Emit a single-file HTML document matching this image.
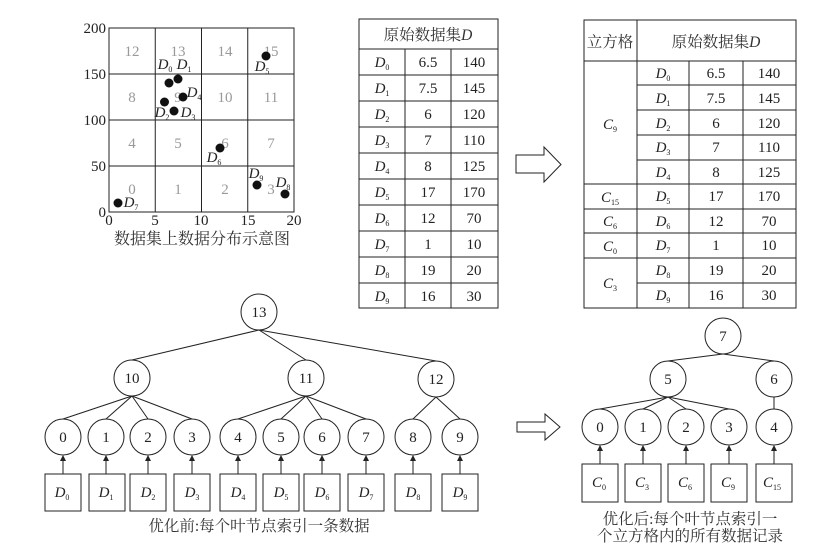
<!DOCTYPE html>
<html><head><meta charset="utf-8"><style>
html,body{margin:0;padding:0;background:#fff;}
svg{display:block;font-family:"Liberation Serif","Noto Serif CJK SC",serif;}
.g{fill:#999;font-size:15px;text-anchor:middle;}
.t{font-size:15px;text-anchor:middle;fill:#222;}
.i{font-style:italic;}
.s{font-size:8px;font-style:normal;}
.c{font-family:"Liberation Serif","Noto Serif CJK SC",serif;font-size:15.5px;text-anchor:middle;fill:#333;}
line,rect,circle,path{stroke:#222;stroke-width:1;}
</style></head><body>
<svg width="818" height="560" viewBox="0 0 818 560" xmlns="http://www.w3.org/2000/svg">
<g fill="none">
<rect x="109" y="28" width="185" height="184"/>
<line x1="155.25" y1="28" x2="155.25" y2="212"/><line x1="201.5" y1="28" x2="201.5" y2="212"/><line x1="247.75" y1="28" x2="247.75" y2="212"/>
<line x1="109" y1="74" x2="294" y2="74"/><line x1="109" y1="120" x2="294" y2="120"/><line x1="109" y1="166" x2="294" y2="166"/>
</g>
<g class="g">
<text x="132" y="56">12</text><text x="178" y="56">13</text><text x="225" y="56">14</text><text x="271" y="56">15</text>
<text x="132" y="102">8</text><text x="178" y="102">9</text><text x="225" y="102">10</text><text x="271" y="102">11</text>
<text x="132" y="148">4</text><text x="178" y="148">5</text><text x="225" y="148">6</text><text x="271" y="148">7</text>
<text x="132" y="194">0</text><text x="178" y="194">1</text><text x="225" y="194">2</text><text x="271" y="194">3</text>
</g>
<g fill="#111">
<circle cx="169" cy="83" r="4.5" style="stroke:none"/><circle cx="178" cy="79" r="4.5" style="stroke:none"/><circle cx="164.5" cy="102" r="4.5" style="stroke:none"/><circle cx="174" cy="111" r="4.5" style="stroke:none"/><circle cx="183" cy="97" r="4.5" style="stroke:none"/><circle cx="266" cy="56" r="4.5" style="stroke:none"/><circle cx="220" cy="148" r="4.5" style="stroke:none"/><circle cx="118" cy="203" r="4.5" style="stroke:none"/><circle cx="285" cy="194" r="4.5" style="stroke:none"/><circle cx="257" cy="185" r="4.5" style="stroke:none"/>
</g>
<g class="t i">
<text x="165" y="69">D<tspan class="s" dy="3">0</tspan></text>
<text x="184" y="69">D<tspan class="s" dy="3">1</tspan></text>
<text x="194" y="97">D<tspan class="s" dy="3">4</tspan></text>
<text x="162" y="117">D<tspan class="s" dy="3">2</tspan></text>
<text x="188" y="117">D<tspan class="s" dy="3">3</tspan></text>
<text x="262" y="71">D<tspan class="s" dy="3">5</tspan></text>
<text x="214" y="162">D<tspan class="s" dy="3">6</tspan></text>
<text x="131" y="207">D<tspan class="s" dy="3">7</tspan></text>
<text x="256" y="178">D<tspan class="s" dy="3">9</tspan></text>
<text x="283" y="187">D<tspan class="s" dy="3">8</tspan></text>
</g>
<g class="t" style="text-anchor:end">
<text x="106" y="33">200</text><text x="106" y="79">150</text><text x="106" y="125">100</text><text x="106" y="171">50</text><text x="106" y="217">0</text>
</g>
<g class="t"><text x="109" y="225">0</text><text x="155" y="225">5</text><text x="201" y="225">10</text><text x="248" y="225">15</text><text x="294" y="225">20</text></g>
<text class="c" x="202" y="244" style="font-size:16px">数据集上数据分布示意图</text>

<g fill="none">
<rect x="359" y="19" width="139" height="289"/>
<line x1="359" y1="49" x2="498" y2="49"/>
<line x1="405" y1="49" x2="405" y2="308"/><line x1="451" y1="49" x2="451" y2="308"/>
<line x1="359" y1="75" x2="498" y2="75"/><line x1="359" y1="101" x2="498" y2="101"/><line x1="359" y1="127" x2="498" y2="127"/><line x1="359" y1="153" x2="498" y2="153"/><line x1="359" y1="179" x2="498" y2="179"/><line x1="359" y1="205" x2="498" y2="205"/><line x1="359" y1="231" x2="498" y2="231"/><line x1="359" y1="257" x2="498" y2="257"/><line x1="359" y1="283" x2="498" y2="283"/>
</g>
<text class="c" x="428" y="40">原始数据集<tspan font-style="italic" font-family="Liberation Serif">D</tspan></text>
<g class="t">
<text x="382" y="67" class="i">D<tspan class="s" dy="3">0</tspan></text><text x="428" y="67">6.5</text><text x="474" y="67">140</text>
<text x="382" y="93" class="i">D<tspan class="s" dy="3">1</tspan></text><text x="428" y="93">7.5</text><text x="474" y="93">145</text>
<text x="382" y="119" class="i">D<tspan class="s" dy="3">2</tspan></text><text x="428" y="119">6</text><text x="474" y="119">120</text>
<text x="382" y="145" class="i">D<tspan class="s" dy="3">3</tspan></text><text x="428" y="145">7</text><text x="474" y="145">110</text>
<text x="382" y="171" class="i">D<tspan class="s" dy="3">4</tspan></text><text x="428" y="171">8</text><text x="474" y="171">125</text>
<text x="382" y="197" class="i">D<tspan class="s" dy="3">5</tspan></text><text x="428" y="197">17</text><text x="474" y="197">170</text>
<text x="382" y="223" class="i">D<tspan class="s" dy="3">6</tspan></text><text x="428" y="223">12</text><text x="474" y="223">70</text>
<text x="382" y="249" class="i">D<tspan class="s" dy="3">7</tspan></text><text x="428" y="249">1</text><text x="474" y="249">10</text>
<text x="382" y="275" class="i">D<tspan class="s" dy="3">8</tspan></text><text x="428" y="275">19</text><text x="474" y="275">20</text>
<text x="382" y="301" class="i">D<tspan class="s" dy="3">9</tspan></text><text x="428" y="301">16</text><text x="474" y="301">30</text>
</g>

<path d="M516 155 H544 V147 L561 164.5 L544 182 V173 H516 Z" fill="#fff"/>

<g fill="none">
<rect x="584" y="20" width="212" height="288"/>
<line x1="584" y1="61" x2="796" y2="61"/>
<line x1="637" y1="20" x2="637" y2="308"/><line x1="689" y1="61" x2="689" y2="308"/><line x1="743" y1="61" x2="743" y2="308"/>
<line x1="637" y1="85" x2="796" y2="85"/><line x1="637" y1="110" x2="796" y2="110"/><line x1="637" y1="135" x2="796" y2="135"/><line x1="637" y1="160" x2="796" y2="160"/>
<line x1="584" y1="184" x2="796" y2="184"/><line x1="584" y1="209" x2="796" y2="209"/><line x1="584" y1="233" x2="796" y2="233"/><line x1="584" y1="258" x2="796" y2="258"/><line x1="637" y1="283" x2="796" y2="283"/>
</g>
<text class="c" x="610" y="47">立方格</text>
<text class="c" x="716" y="47">原始数据集<tspan font-style="italic" font-family="Liberation Serif">D</tspan></text>
<g class="t">
<text x="610" y="129" class="i">C<tspan class="s" dy="3">9</tspan></text>
<text x="610" y="202" class="i">C<tspan class="s" dy="3">15</tspan></text>
<text x="610" y="226" class="i">C<tspan class="s" dy="3">6</tspan></text>
<text x="610" y="251" class="i">C<tspan class="s" dy="3">0</tspan></text>
<text x="610" y="288" class="i">C<tspan class="s" dy="3">3</tspan></text>
<text x="663" y="78" class="i">D<tspan class="s" dy="3">0</tspan></text><text x="716" y="78">6.5</text><text x="769" y="78">140</text>
<text x="663" y="103" class="i">D<tspan class="s" dy="3">1</tspan></text><text x="716" y="103">7.5</text><text x="769" y="103">145</text>
<text x="663" y="128" class="i">D<tspan class="s" dy="3">2</tspan></text><text x="716" y="128">6</text><text x="769" y="128">120</text>
<text x="663" y="152" class="i">D<tspan class="s" dy="3">3</tspan></text><text x="716" y="152">7</text><text x="769" y="152">110</text>
<text x="663" y="177" class="i">D<tspan class="s" dy="3">4</tspan></text><text x="716" y="177">8</text><text x="769" y="177">125</text>
<text x="663" y="201" class="i">D<tspan class="s" dy="3">5</tspan></text><text x="716" y="201">17</text><text x="769" y="201">170</text>
<text x="663" y="226" class="i">D<tspan class="s" dy="3">6</tspan></text><text x="716" y="226">12</text><text x="769" y="226">70</text>
<text x="663" y="250" class="i">D<tspan class="s" dy="3">7</tspan></text><text x="716" y="250">1</text><text x="769" y="250">10</text>
<text x="663" y="275" class="i">D<tspan class="s" dy="3">8</tspan></text><text x="716" y="275">19</text><text x="769" y="275">20</text>
<text x="663" y="300" class="i">D<tspan class="s" dy="3">9</tspan></text><text x="716" y="300">16</text><text x="769" y="300">30</text>
</g>

<defs><marker id="a" markerWidth="6" markerHeight="6" refX="5" refY="3" orient="auto"><path d="M0,0 L6,3 L0,6 Z" fill="#222" style="stroke:none"/></marker></defs>
<g fill="none">
<line x1="259" y1="330" x2="132" y2="360"/><line x1="259" y1="330" x2="306" y2="360"/><line x1="259" y1="330" x2="436" y2="361"/>
<line x1="132" y1="396" x2="63" y2="419"/><line x1="132" y1="396" x2="106" y2="419"/><line x1="132" y1="396" x2="148" y2="419"/><line x1="132" y1="396" x2="192" y2="419"/>
<line x1="306" y1="396" x2="238" y2="419"/><line x1="306" y1="396" x2="281" y2="419"/><line x1="306" y1="396" x2="322" y2="419"/><line x1="306" y1="396" x2="366" y2="419"/>
<line x1="436" y1="397" x2="413" y2="419"/><line x1="436" y1="397" x2="460" y2="419"/>
</g>
<g fill="#fff">
<circle cx="259" cy="312" r="18"/><circle cx="132" cy="378" r="18"/><circle cx="306" cy="378" r="18"/><circle cx="436" cy="379" r="18"/>
<circle cx="63" cy="437" r="18"/><circle cx="106" cy="437" r="18"/><circle cx="148" cy="437" r="18"/><circle cx="192" cy="437" r="18"/><circle cx="238" cy="437" r="18"/><circle cx="281" cy="437" r="18"/><circle cx="322" cy="437" r="18"/><circle cx="366" cy="437" r="18"/><circle cx="413" cy="437" r="18"/><circle cx="460" cy="437" r="18"/>
<rect x="45" y="474" width="36" height="37"/><rect x="89" y="474" width="36" height="37"/><rect x="130" y="474" width="36" height="37"/><rect x="174" y="474" width="36" height="37"/><rect x="220" y="474" width="36" height="37"/><rect x="263" y="474" width="36" height="37"/><rect x="304" y="474" width="36" height="37"/><rect x="348" y="474" width="36" height="37"/><rect x="395" y="474" width="36" height="37"/><rect x="442" y="474" width="36" height="37"/>
</g>
<g marker-end="url(#a)">
<line x1="63" y1="474" x2="63" y2="456"/><line x1="106" y1="474" x2="106" y2="456"/><line x1="148" y1="474" x2="148" y2="456"/><line x1="192" y1="474" x2="192" y2="456"/><line x1="238" y1="474" x2="238" y2="456"/><line x1="281" y1="474" x2="281" y2="456"/><line x1="322" y1="474" x2="322" y2="456"/><line x1="366" y1="474" x2="366" y2="456"/><line x1="413" y1="474" x2="413" y2="456"/><line x1="460" y1="474" x2="460" y2="456"/>
</g>
<g class="t">
<text x="259" y="317">13</text><text x="132" y="383">10</text><text x="306" y="383">11</text><text x="436" y="384">12</text>
<text x="63" y="442">0</text><text x="106" y="442">1</text><text x="148" y="442">2</text><text x="192" y="442">3</text><text x="238" y="442">4</text><text x="281" y="442">5</text><text x="322" y="442">6</text><text x="366" y="442">7</text><text x="413" y="442">8</text><text x="460" y="442">9</text>
<text x="62" y="497" class="i">D<tspan class="s" dy="3">0</tspan></text><text x="106" y="497" class="i">D<tspan class="s" dy="3">1</tspan></text><text x="148" y="497" class="i">D<tspan class="s" dy="3">2</tspan></text><text x="192" y="497" class="i">D<tspan class="s" dy="3">3</tspan></text><text x="238" y="497" class="i">D<tspan class="s" dy="3">4</tspan></text><text x="281" y="497" class="i">D<tspan class="s" dy="3">5</tspan></text><text x="322" y="497" class="i">D<tspan class="s" dy="3">6</tspan></text><text x="366" y="497" class="i">D<tspan class="s" dy="3">7</tspan></text><text x="413" y="497" class="i">D<tspan class="s" dy="3">8</tspan></text><text x="460" y="497" class="i">D<tspan class="s" dy="3">9</tspan></text>
</g>
<text class="c" x="259" y="531">优化前:每个叶节点索引一条数据</text>

<path d="M517 422 H545 V414 L560 427 L545 440 V432 H517 Z" fill="#fff"/>

<g fill="none">
<line x1="723" y1="354" x2="668" y2="361"/><line x1="723" y1="354" x2="774" y2="361"/>
<line x1="668" y1="397" x2="600" y2="409"/><line x1="668" y1="397" x2="643" y2="409"/><line x1="668" y1="397" x2="686" y2="409"/><line x1="668" y1="397" x2="729" y2="409"/>
<line x1="774" y1="397" x2="774" y2="409"/>
</g>
<g fill="#fff">
<circle cx="723" cy="336" r="18"/><circle cx="668" cy="379" r="18"/><circle cx="774" cy="379" r="18"/>
<circle cx="600" cy="427" r="18"/><circle cx="643" cy="427" r="18"/><circle cx="686" cy="427" r="18"/><circle cx="729" cy="427" r="18"/><circle cx="774" cy="427" r="18"/>
<rect x="582" y="464" width="36" height="38"/><rect x="625" y="464" width="36" height="38"/><rect x="668" y="464" width="36" height="38"/><rect x="711" y="464" width="36" height="38"/><rect x="756" y="464" width="36" height="38"/>
</g>
<g marker-end="url(#a)">
<line x1="600" y1="464" x2="600" y2="446"/><line x1="643" y1="464" x2="643" y2="446"/><line x1="686" y1="464" x2="686" y2="446"/><line x1="729" y1="464" x2="729" y2="446"/><line x1="774" y1="464" x2="774" y2="446"/>
</g>
<g class="t">
<text x="723" y="341">7</text><text x="668" y="384">5</text><text x="774" y="384">6</text>
<text x="600" y="432">0</text><text x="643" y="432">1</text><text x="686" y="432">2</text><text x="729" y="432">3</text><text x="774" y="432">4</text>
<text x="599" y="487" class="i">C<tspan class="s" dy="3">0</tspan></text><text x="642" y="487" class="i">C<tspan class="s" dy="3">3</tspan></text><text x="685" y="487" class="i">C<tspan class="s" dy="3">6</tspan></text><text x="728" y="487" class="i">C<tspan class="s" dy="3">9</tspan></text><text x="772" y="487" class="i">C<tspan class="s" dy="3">15</tspan></text>
</g>
<text class="c" x="690" y="524">优化后:每个叶节点索引一</text>
<text class="c" x="690" y="541">个立方格内的所有数据记录</text>
</svg>
</body></html>
